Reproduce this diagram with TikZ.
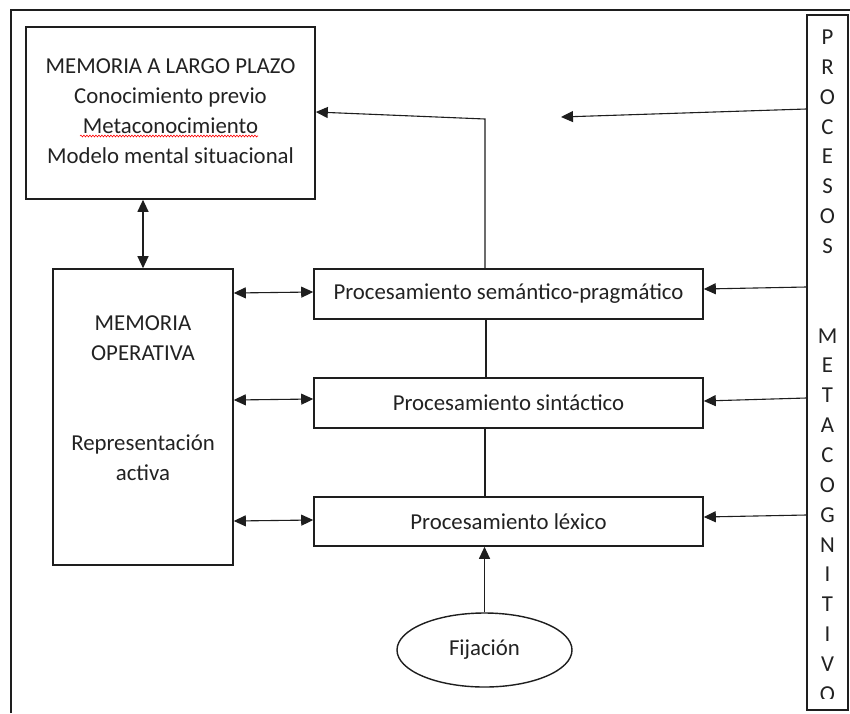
\documentclass[tikz,border=0pt]{standalone}
\usepackage{fontspec}
\setmainfont{Carlito}
\usetikzlibrary{arrows.meta,shapes.geometric,decorations.pathmorphing}
\definecolor{ink}{HTML}{1E1E1E}
\definecolor{txt}{HTML}{222222}
\begin{document}
\begin{tikzpicture}[x=1pt,y=-1pt,
  box/.style={draw=ink,line width=1.6pt,rectangle,inner sep=0pt,text=txt,font=\fontsize{22.8}{30}\selectfont,align=center},
  conn/.style={draw=ink,line width=1.1pt},
  tip/.style={-{Triangle[length=12pt,width=11pt]}},
  dbl/.style={{Triangle[length=12pt,width=11pt]}-{Triangle[length=12pt,width=11pt]}},
  lbl/.style={text=txt,font=\fontsize{22.8}{30}\selectfont,align=center,inner sep=0pt},
  letter/.style={text=txt,font=\fontsize{22.8}{30}\selectfont,inner sep=0pt,text height=14pt,text depth=0pt}]
\useasboundingbox (0,0) rectangle (850,713);
\fill[white] (0,0) rectangle (850,713);
% frame
\coordinate (fb) at (11,713);
\coordinate (ft) at (11,10);
\coordinate (fr) at (850,10);
\draw[ink,line width=1.4pt] (fb) -- (ft) -- (fr);

\node[box,minimum width=289pt,minimum height=172pt] (ltm) at (170.5,113) {};
\node[lbl] (ltmtext) at (170.5,111) {MEMORIA A LARGO PLAZO\\Conocimiento previo\\Metaconocimiento\\Modelo mental situacional};
\draw[red,line width=0.6pt,decorate,decoration={snake,amplitude=0.9pt,segment length=3pt}] (80,136) -- (258,136);

\node[box,minimum width=180pt,minimum height=296pt] (mo) at (143,417) {};
\node[lbl] (motext) at (143,398) {MEMORIA\\OPERATIVA\\\mbox{}\\\mbox{}\\Representación\\activa};

\node[box,minimum width=389pt,minimum height=50pt] (sem) at (508.5,294) {Procesamiento semántico-pragmático};
\node[box,minimum width=389pt,minimum height=50pt] (sint) at (508.5,403) {Procesamiento sintáctico};
\node[box,minimum width=389pt,minimum height=49pt] (lex) at (508.5,521.5) {Procesamiento léxico};
\node[ellipse,draw=ink,line width=1.4pt,minimum width=175pt,minimum height=74pt,inner sep=0pt,text=txt,font=\fontsize{22.8}{30}\selectfont] (fij) at (484.5,650) {Fijación};

\node[box,minimum width=41pt,minimum height=695pt] (col) at (827.5,362.5) {};
\begin{scope}
\clip (col.north west) rectangle (col.east |- 0,698.5);
\foreach \ch [count=\i] in {P,R,O,C,E,S,O,S,{},{},M,E,T,A,C,O,G,N,I,T,I,V,O}
  \node[letter] (let\i) at (827.5,{37.5+(\i-1)*29.86}) {\ch};
\end{scope}

% connectors
\draw[conn,dbl] (ltm.south -| mo.north) -- (mo.north);
\coordinate (corner) at (485,119);
\draw[conn,tip] (sem.north -| corner) -- (corner) -- ([yshift=1pt]ltm.east);
\draw[conn] (sem.south -| 486,0) -- (sint.north -| 486,0);
\draw[conn] (sint.south -| corner) -- (lex.north -| corner);
\draw[conn,tip] (fij.north) -- (lex.south -| fij.north);

\draw[conn,dbl] (mo.east |- 0,293) -- (sem.west |- 0,292);
\draw[conn,dbl] (mo.east |- 0,400) -- (sint.west |- 0,399);
\draw[conn,dbl] (mo.east |- 0,521) -- (lex.west |- 0,520);

\draw[conn,tip] (col.west |- 0,287) -- (sem.east |- 0,289);
\draw[conn,tip] (col.west |- 0,398) -- (sint.east |- 0,401);
\draw[conn,tip] (col.west |- 0,515) -- (lex.east |- 0,517);
\coordinate (free) at (561,117);
\draw[conn,tip] (col.west |- 0,109) -- (free);
\end{tikzpicture}
\end{document}
